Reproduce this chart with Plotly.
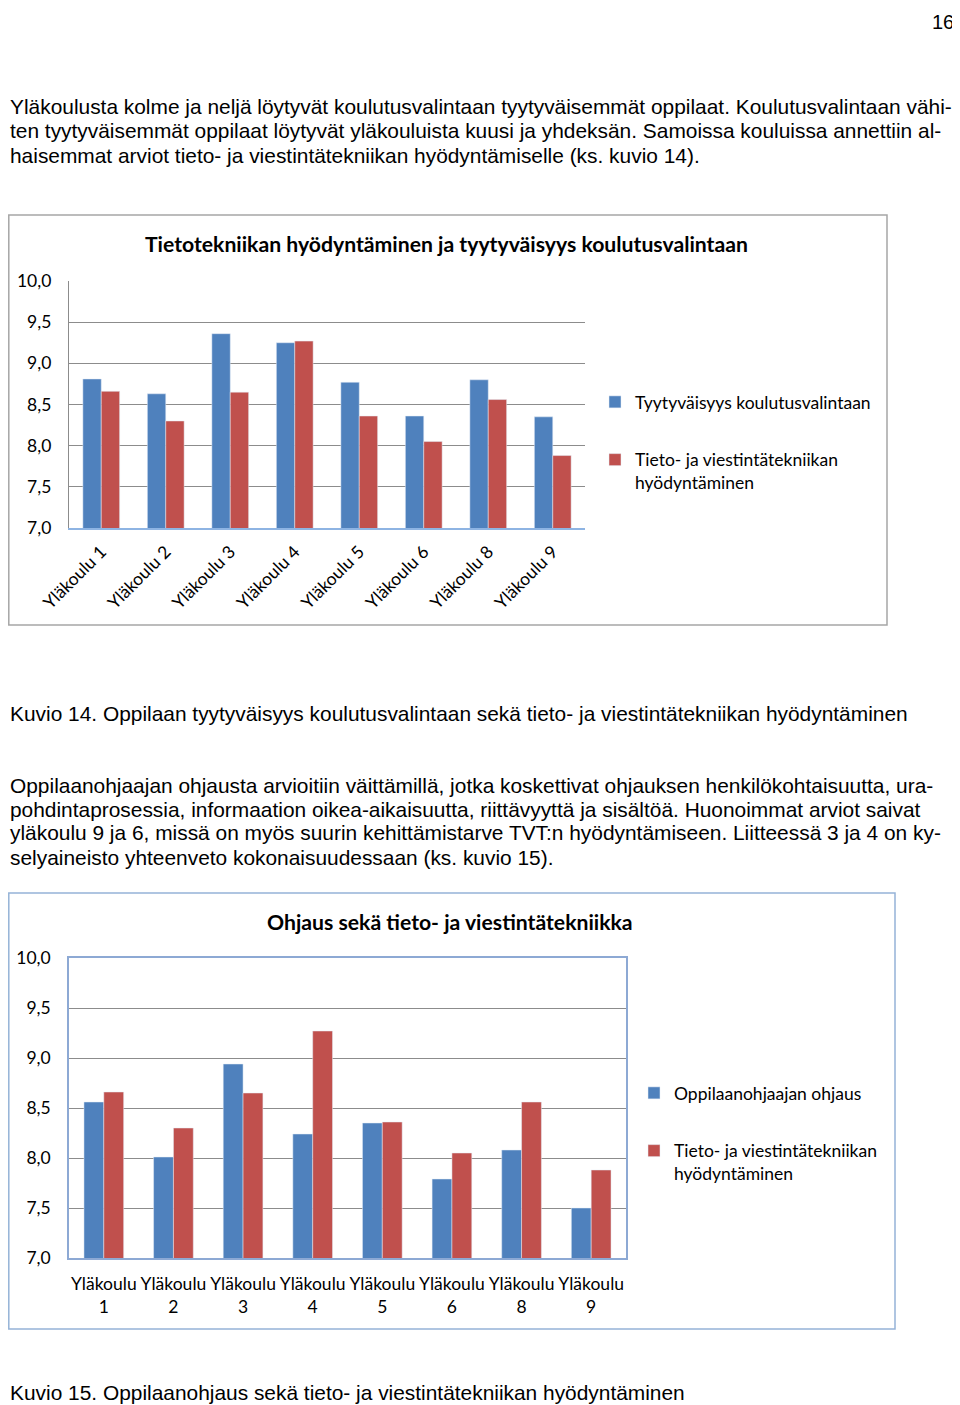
import plotly.graph_objects as go

# the page puts the plot 8 px in from the top-left corner, so the figure is
# 8 px smaller than the window and positions are measured from that corner
OFF = 8
W, H = 960 - OFF, 1405 - OFF

schools = ["Yläkoulu 1", "Yläkoulu 2", "Yläkoulu 3", "Yläkoulu 4",
           "Yläkoulu 5", "Yläkoulu 6", "Yläkoulu 8", "Yläkoulu 9"]
tyytyvaisyys = [8.81, 8.63, 9.36, 9.25, 8.77, 8.36, 8.80, 8.35]
tvt_hyodyntaminen = [8.66, 8.30, 8.65, 9.27, 8.36, 8.05, 8.56, 7.88]
ohjaus = [8.56, 8.01, 8.94, 8.24, 8.35, 7.79, 8.08, 7.50]
y_ticks = [7.0, 7.5, 8.0, 8.5, 9.0, 9.5, 10.0]

BLUE = "#4F81BD"
RED = "#C0504D"
CHART_FONT = "Lato"
TEXT_FONT = "Liberation Sans, Arial"
CS = 17.5  # chart text size


def px(x):
    return max(x - OFF, 0) / W


def py(y):
    return 1 - (y - OFF) / H


fig = go.Figure()

# kuvio 14
fig.add_bar(x=schools, y=tyytyvaisyys, name="Tyytyväisyys koulutusvalintaan",
            marker_color=BLUE, xaxis="x", yaxis="y", legend="legend", legendgroup="a")
fig.add_bar(x=schools, y=tvt_hyodyntaminen, name="Tieto- ja viestintätekniikan<br>hyödyntäminen",
            marker_color=RED, xaxis="x", yaxis="y", legend="legend", legendgroup="b")
# kuvio 15
fig.add_bar(x=schools, y=ohjaus, name="Oppilaanohjaajan ohjaus",
            marker_color=BLUE, xaxis="x2", yaxis="y2", legend="legend2", legendgroup="c")
fig.add_bar(x=schools, y=tvt_hyodyntaminen, name="Tieto- ja viestintätekniikan<br>hyödyntäminen",
            marker_color=RED, xaxis="x2", yaxis="y2", legend="legend2", legendgroup="d")

axis_font = dict(family=CHART_FONT, size=CS, color="black")
yaxis_common = dict(range=[7, 10], tickvals=y_ticks, tickformat=".1f",
                    showgrid=True, gridcolor="#8C8C8C", gridwidth=1.2,
                    tickfont=axis_font, ticks="", ticklabelstandoff=13,
                    zeroline=False, fixedrange=True, automargin=False)

fig.update_layout(
    width=W, height=H,
    margin=dict(l=0, r=0, t=0, b=0, autoexpand=False),
    paper_bgcolor="white", plot_bgcolor="white",
    separators=", ",
    barmode="group", bargap=0.43, bargroupgap=0,
    font=dict(family=CHART_FONT, color="black"),
    xaxis=dict(domain=[px(69), px(585)], anchor="y", tickangle=-45,
               tickfont=axis_font, showline=True, linecolor="#8EB4E3",
               linewidth=1.5, ticks="", ticklabelstandoff=5, automargin=False),
    yaxis=dict(domain=[py(528), py(281)], anchor="x", showline=True,
               linecolor="#8C8C8C", linewidth=1.2, **yaxis_common),
    xaxis2=dict(domain=[px(69), px(626)], anchor="y2", tickangle=0,
                tickfont=axis_font, tickvals=schools,
                ticktext=[s.replace(" ", "<br>") for s in schools],
                showline=True, linecolor="#8DA9D4", linewidth=1.5,
                mirror=True, ticks="", ticklabelstandoff=9, automargin=False),
    yaxis2=dict(domain=[py(1258), py(958)], anchor="x2", showline=True,
                linecolor="#8DA9D4", linewidth=1.5, mirror=True, **yaxis_common),
    legend=dict(x=px(595), y=py(384), xanchor="left", yanchor="top",
                font=dict(family=CHART_FONT, size=CS), tracegroupgap=32,
                valign="top", bgcolor="rgba(0,0,0,0)"),
    legend2=dict(x=px(634), y=py(1075), xanchor="left", yanchor="top",
                 font=dict(family=CHART_FONT, size=CS), tracegroupgap=32,
                 valign="top", bgcolor="rgba(0,0,0,0)"),
)

# chart frames
fig.add_shape(type="rect", xref="paper", yref="paper",
              x0=px(8.8), x1=px(887), y0=py(625), y1=py(215),
              line=dict(color="#A6A6A6", width=1.5), layer="below")
fig.add_shape(type="rect", xref="paper", yref="paper",
              x0=px(8.8), x1=px(895), y0=py(1329), y1=py(893),
              line=dict(color="#95B3D7", width=1.5), layer="below")

# chart titles
fig.add_annotation(x=px(446), y=py(244), xref="paper", yref="paper",
                   xanchor="center", yanchor="middle",
                   text="<b>Tietotekniikan hyödyntäminen ja tyytyväisyys koulutusvalintaan</b>",
                   showarrow=False, font=dict(family=CHART_FONT, size=21.2))
fig.add_annotation(x=px(450), y=py(922), xref="paper", yref="paper",
                   xanchor="center", yanchor="middle",
                   text="<b>Ohjaus sekä tieto- ja viestintätekniikka</b>",
                   showarrow=False, font=dict(family=CHART_FONT, size=21.2))

# body text of the page
page_lines = [
    (107, "Yläkoulusta kolme ja neljä löytyvät koulutusvalintaan tyytyväisemmät oppilaat. Koulutusvalintaan vähi-"),
    (131, "ten tyytyväisemmät oppilaat löytyvät yläkouluista kuusi ja yhdeksän. Samoissa kouluissa annettiin al-"),
    (155, "haisemmat arviot tieto- ja viestintätekniikan hyödyntämiselle (ks. kuvio 14)."),
    (713, "Kuvio 14. Oppilaan tyytyväisyys koulutusvalintaan sekä tieto- ja viestintätekniikan hyödyntäminen"),
    (785, "Oppilaanohjaajan ohjausta arvioitiin väittämillä, jotka koskettivat ohjauksen henkilökohtaisuutta, ura-"),
    (809, "pohdintaprosessia, informaation oikea-aikaisuutta, riittävyyttä ja sisältöä. Huonoimmat arviot saivat"),
    (833, "yläkoulu 9 ja 6, missä on myös suurin kehittämistarve TVT:n hyödyntämiseen. Liitteessä 3 ja 4 on ky-"),
    (857, "selyaineisto yhteenveto kokonaisuudessaan (ks. kuvio 15)."),
    (1392, "Kuvio 15. Oppilaanohjaus sekä tieto- ja viestintätekniikan hyödyntäminen"),
]
for yy, line in page_lines:
    fig.add_annotation(x=px(6), y=py(yy), xref="paper", yref="paper",
                       xanchor="left", yanchor="middle", text=line,
                       showarrow=False, font=dict(family=TEXT_FONT, size=20.9, color="black"))

# page number, kept inside the drawable area
fig.add_annotation(x=px(956), y=py(9), xref="paper", yref="paper",
                   xanchor="right", yanchor="top", text="16",
                   showarrow=False, font=dict(family=TEXT_FONT, size=20, color="black"))

fig.write_html("out.html")
